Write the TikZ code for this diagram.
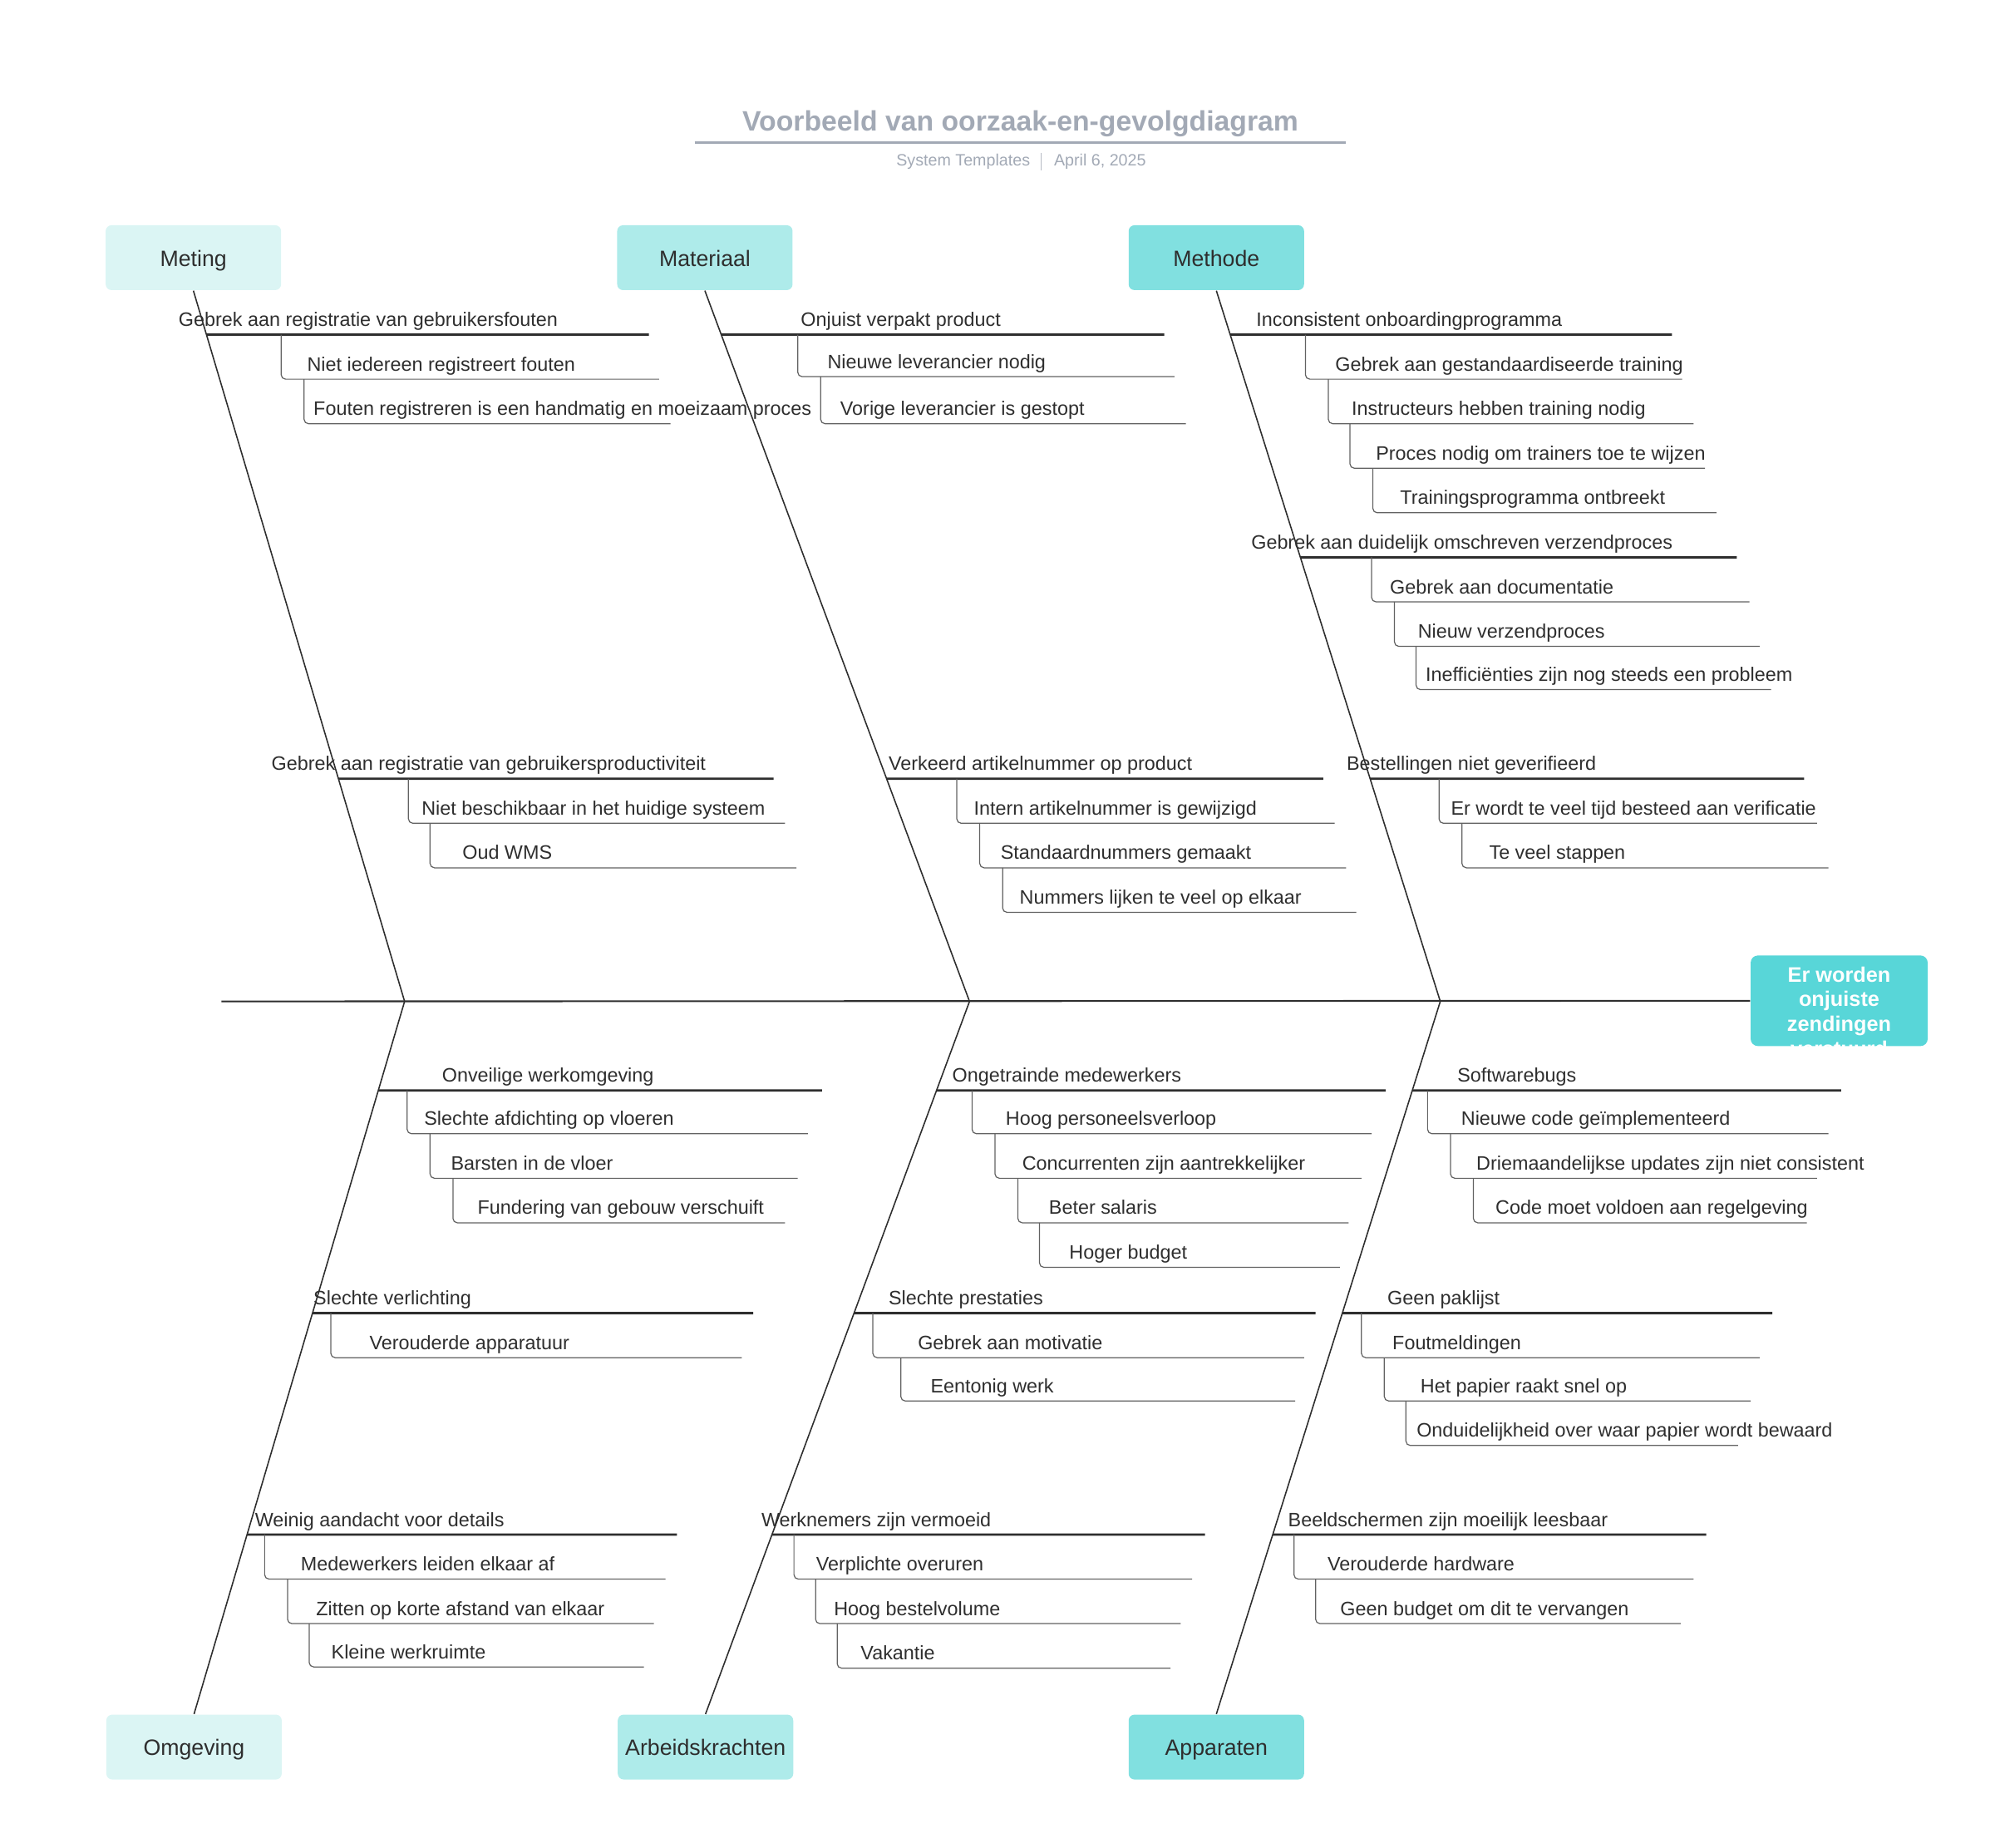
\documentclass[tikz,border=0pt]{standalone}
\usepackage{fontspec}
\setmainfont{Liberation Sans}
\usetikzlibrary{positioning,intersections}
\definecolor{ink}{HTML}{2E2E2E}
\definecolor{faint}{HTML}{DBF5F4}
\definecolor{mid}{HTML}{AEEBEA}
\definecolor{deep}{HTML}{81E0E0}
\definecolor{headc}{HTML}{58D6D8}
\definecolor{titlegray}{HTML}{A2A9B5}
\begin{document}
\begin{tikzpicture}[x=0.01531cm,y=-0.01531cm,
  cat/.style={rounded corners=2pt,minimum width=2.11cm,minimum height=0.78cm,inner sep=0,text height=1.55ex,text depth=0.45ex,font=\fontsize{7.6}{9}\selectfont,text=ink},
  effectbox/.style={fill=headc,rounded corners=2.5pt,minimum width=2.13cm,minimum height=1.09cm,inner sep=0},
  efftext/.style={align=center,text=white,font=\fontsize{7.2}{8.5}\selectfont\bfseries},
  lbl/.style={anchor=base west,inner sep=0,font=\fontsize{6.65}{8}\selectfont,text=ink},
  main/.style={draw=ink,line width=0.8pt},
  sub/.style={draw=ink!75,line width=0.35pt,rounded corners=1.5pt},
  bone/.style={draw=ink,line width=0.45pt},
  spine/.style={draw=ink,line width=0.6pt}]
\useasboundingbox (0,0) rectangle (1568,1452);

\node[font=\fontsize{9.6}{11}\selectfont\bfseries,text=titlegray] (title) at (802,97) {Voorbeeld van oorzaak-en-gevolgdiagram};
\draw[titlegray,line width=1.1pt] (546,112) -- (1058,112);
\node[anchor=east,inner sep=0,font=\fontsize{5.6}{7}\selectfont,text=titlegray] (maker) at (810,127) {System Templates};
\node[anchor=west,inner sep=0,font=\fontsize{5.6}{7}\selectfont,text=titlegray] (date) at (828,127) {April 6, 2025};
\draw[titlegray!80,line width=0.3pt] (818,120) -- (818,134);

\node[cat,fill=faint] (meting) at (152,202.5) {Meting};
\node[cat,fill=mid] (materiaal) at (554,202.5) {Materiaal};
\node[cat,fill=deep] (methode) at (956,202.5) {Methode};
\node[cat,fill=faint] (omgeving) at (152.5,1373) {Omgeving};
\node[cat,fill=mid] (arbeid) at (554.5,1373) {Arbeidskrachten};
\node[cat,fill=deep] (apparaten) at (956,1373) {Apparaten};
\node[effectbox] (effect) at (1445.5,786.5) {};

\coordinate (tail) at (174,787);
\coordinate (mS) at (318,787);
\coordinate (aS) at (762,787);
\coordinate (tS) at (1132,787);
\draw[spine] (tail) -- (effect.west);
\foreach \b/\s in {meting.south/mS,materiaal.south/aS,methode.south/tS,omgeving.north/mS,arbeid.north/aS,apparaten.north/tS}
  \draw[bone] (\b) -- (\s);

\foreach \b/\s/\ly/\xe/\tx/\txt in {
  meting.south/mS/263/510/140/Gebrek aan registratie van gebruikersfouten,
  meting.south/mS/612/608/213/Gebrek aan registratie van gebruikersproductiviteit,
  materiaal.south/aS/263/915/629/Onjuist verpakt product,
  materiaal.south/aS/612/1040/698/Verkeerd artikelnummer op product,
  methode.south/tS/263/1314/987/Inconsistent onboardingprogramma,
  methode.south/tS/438/1365/983/Gebrek aan duidelijk omschreven verzendproces,
  methode.south/tS/612/1418/1058/Bestellingen niet geverifieerd,
  omgeving.north/mS/857/646/347/Onveilige werkomgeving,
  omgeving.north/mS/1032/592/246/Slechte verlichting,
  omgeving.north/mS/1206/532/200/Weinig aandacht voor details,
  arbeid.north/aS/857/1089/748/Ongetrainde medewerkers,
  arbeid.north/aS/1032/1034/698/Slechte prestaties,
  arbeid.north/aS/1206/947/598/Werknemers zijn vermoeid,
  apparaten.north/tS/857/1447/1145/Softwarebugs,
  apparaten.north/tS/1032/1393/1090/Geen paklijst,
  apparaten.north/tS/1206/1341/1012/Beeldschermen zijn moeilijk leesbaar}{
  \path[name path=bn] (\b) -- (\s);
  \path[name path=hz] (0,\ly) -- (1568,\ly);
  \draw[main,name intersections={of=bn and hz}] (intersection-1) -- (\xe,\ly);
  \node[lbl] at (\tx,\ly-6.5) {\txt};
}

\foreach \vx/\ya/\yb/\xe/\tx/\txt in {
  221/263/298/518/241/Niet iedereen registreert fouten,
  239/298/333/527/246/Fouten registreren is een handmatig en moeizaam proces,
  321/612/647/617/331/Niet beschikbaar in het huidige systeem,
  338/647/682/626/363/Oud WMS,
  627/263/296/923/650/Nieuwe leverancier nodig,
  645/296/333/932/660/Vorige leverancier is gestopt,
  752/612/647/1049/765/Intern artikelnummer is gewijzigd,
  770/647/682/1058/786/Standaardnummers gemaakt,
  788/682/717/1066/801/Nummers lijken te veel op elkaar,
  1026/263/298/1322/1049/Gebrek aan gestandaardiseerde training,
  1044/298/333/1331/1062/Instructeurs hebben training nodig,
  1061/333/368/1340/1081/Proces nodig om trainers toe te wijzen,
  1079/368/403/1349/1100/Trainingsprogramma ontbreekt,
  1078/438/473/1375/1092/Gebrek aan documentatie,
  1096/473/508/1383/1114/Nieuw verzendproces,
  1113/508/542/1392/1120/Inefficiënties zijn nog steeds een probleem,
  1131/612/647/1428/1140/Er wordt te veel tijd besteed aan verificatie,
  1149/647/682/1437/1170/Te veel stappen,
  320/857/891/635/333/Slechte afdichting op vloeren,
  338/891/926/627/354/Barsten in de vloer,
  356/926/961/617/375/Fundering van gebouw verschuift,
  260/1032/1067/583/290/Verouderde apparatuur,
  208/1206/1241/523/236/Medewerkers leiden elkaar af,
  226/1241/1276/514/248/Zitten op korte afstand van elkaar,
  243/1276/1310/506/260/Kleine werkruimte,
  764/857/891/1078/790/Hoog personeelsverloop,
  782/891/926/1070/803/Concurrenten zijn aantrekkelijker,
  800/926/961/1060/824/Beter salaris,
  817/961/996/1053/840/Hoger budget,
  686/1032/1067/1025/721/Gebrek aan motivatie,
  708/1067/1101/1018/731/Eentonig werk,
  624/1206/1241/937/641/Verplichte overuren,
  641/1241/1276/928/655/Hoog bestelvolume,
  658/1276/1311/920/676/Vakantie,
  1122/857/891/1437/1148/Nieuwe code geïmplementeerd,
  1140/891/926/1428/1160/Driemaandelijkse updates zijn niet consistent,
  1158/926/961/1420/1175/Code moet voldoen aan regelgeving,
  1070/1032/1067/1383/1094/Foutmeldingen,
  1088/1067/1101/1376/1116/Het papier raakt snel op,
  1105/1101/1136/1366/1113/Onduidelijkheid over waar papier wordt bewaard,
  1017/1206/1241/1331/1043/Verouderde hardware,
  1034/1241/1276/1321/1053/Geen budget om dit te vervangen}{
  \draw[sub] (\vx,\ya) |- (\xe,\yb);
  \node[lbl] at (\tx,\yb-6.5) {\txt};
}

\node[efftext] (effecttext) at (1445.5,795) {Er worden\\onjuiste\\zendingen\\verstuurd};
\end{tikzpicture}
\end{document}
